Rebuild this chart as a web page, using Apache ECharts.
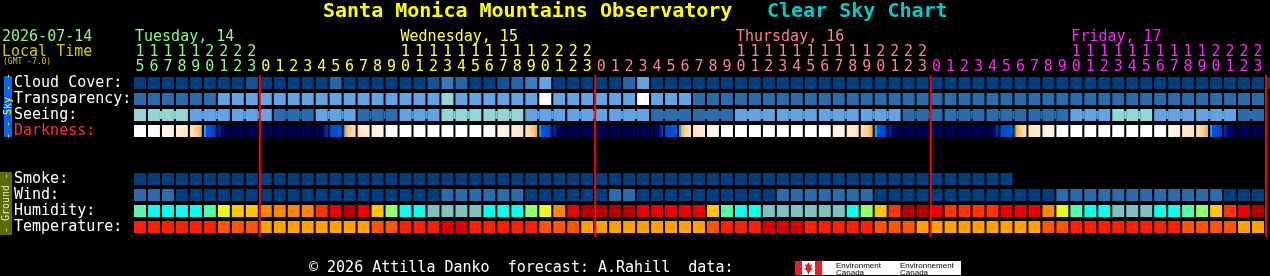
<!DOCTYPE html>
<html><head><meta charset="utf-8">
<script src="https://cdn.jsdelivr.net/npm/echarts@6/dist/echarts.min.js"></script>
<style>html,body{margin:0;padding:0;background:#000;overflow:hidden}#c{width:1270px;height:276px}</style>
</head><body><div id="c"></div>
<script>
// ---------------- DATA ----------------
const hours = [15,16,17,18,19,20,21,22,23,
  0,1,2,3,4,5,6,7,8,9,10,11,12,13,14,15,16,17,18,19,20,21,22,23,
  0,1,2,3,4,5,6,7,8,9,10,11,12,13,14,15,16,17,18,19,20,21,22,23,
  0,1,2,3,4,5,6,7,8,9,10,11,12,13,14,15,16,17,18,19,20,21,22,23];
const dayNames = ["Tuesday, 14","Wednesday, 15","Thursday, 16","Friday, 17"];
const rowLabels = ["Cloud Cover:","Transparency:","Seeing:","Darkness:","","","Smoke:","Wind:","Humidity:","Temperature:"];
// cloud cover in tenths (0 = clear)
const cloudCover = [0,0,0,0,0,0,0,0,1,0,0,0,0,0,2,0,0,0,0,0,0,1,3,2,0,0,1,2,3,5,0,0,0,0,0,2,5,
  0,0,0,0,0,0,0,0,0,0,0,0,0,0,0,0,0,0,0,0,0,0,0,0,0,0,0,0,0,0,0,0,0,0,0,0,0,0,0,0,0,0,0,0,0];
// transparency level (0 transparent .. 5 too cloudy)
const transparency = [1,1,1,1,1,1,2,2,2,2,2,2,2,2,2,2,2,2,2,2,2,2,3,2,2,2,2,2,2,5,2,2,2,2,2,2,5,2,2,2,
  1,1,1,1,1,1,1,1,1,1,1,1,1,1,1,1,1,1,1,1,1,1,1,1,1,1,1,1,1,1,1,1,1,1,1,1,1,1,1,1,1];
// seeing level (0 excellent .. 5 too cloudy)
const seeing = [3,3,3,3,2,2,2,2,2,2,1,1,1,2,2,2,1,1,1,2,2,2,3,3,3,3,3,3,2,2,2,2,2,2,2,2,2,
  1,1,1,1,1,1,2,2,2,2,2,2,2,2,2,2,2,2,1,1,1,1,1,1,1,1,1,1,1,1,2,2,2,3,3,3,2,2,2,2,2,2,1,1];
// sun altitude (deg) at each hour boundary, drives the darkness colours
const darkness = [57,44,32,20,9,-0.05,-9.5,-17,-22,
  -25,-26,-25,-23,-20,-8,-1.5,9,20,32,44,56,66,72,68,57,44,32,20,9,-0.05,-9.5,-17,-22,
  -25,-26,-25,-23,-20,-8,-1.5,9,20,32,44,56,66,72,68,57,44,32,20,9,-0.05,-9.5,-17,-22,
  -25,-26,-25,-23,-20,-8,-1.5,9,20,32,44,56,66,72,68,57,44,32,20,9,-0.05,-9.5,-17,-22,
  -25];
// smoke (ug/m3), forecast only 63 hours
const smoke = [0,0,0,0,0,0,0,0,0,0,0,0,0,0,0,0,0,0,0,0,0,
  0,0,0,0,0,0,0,0,0,0,0,0,0,0,0,0,0,0,0,0,0,
  0,0,0,0,0,0,0,0,0,0,0,0,0,0,0,0,0,0,0,0,0];
// wind (mph)
const wind = [8,8,8,3,3,3,3,3,3,3,3,3,3,3,3,3,3,3,3,3,3,3,8,8,8,8,8,8,3,3,3,3,3,3,8,8,
  3,3,3,3,3,3,3,3,3,3,8,8,8,8,8,8,8,3,3,3,3,3,3,3,3,3,3,3,3,3,8,8,8,8,8,8,8,8,8,8,8,8,3,3,3];
// relative humidity (%)
const humidity = [37,32,32,32,32,37,47,52,52,57,57,57,57,62,67,72,67,52,42,32,32,27,27,27,27,32,32,32,42,47,57,67,
  72,72,72,72,67,67,67,67,67,52,37,32,32,27,27,27,27,27,27,32,42,52,62,72,72,67,62,62,62,62,67,67,67,57,47,37,32,32,27,27,27,32,32,37,42,52,62,67,72];
// temperature (F)
const temperature = [75,75,75,75,75,75,70,70,70,66,66,66,66,66,66,66,66,70,70,75,75,75,80,80,75,75,75,75,75,70,70,70,
  66,66,66,66,66,66,66,66,66,70,75,75,75,80,80,80,75,75,75,75,75,70,70,70,66,66,66,66,66,66,66,66,66,70,70,75,75,75,75,75,75,75,75,70,70,70,70,66,66];

// ---------------- STYLE ----------------
const FONT = '"DejaVu Sans Mono","Liberation Mono",monospace';
const dayColors = ['#80FF80','#FFFF33','#FF8080','#FF22FF'];
const cloudColors = ['#003F7F','#135393','#2767A7','#3B7BBB','#4F8FCF','#63A3E3','#77B7F7','#9ADADA','#AEEEEE','#C2C2C2','#EAEAEA'];
const skyColors = ['#003F7F','#2C6CAC','#63A3E3','#95D5D5','#C7C7C7','#FFFFFF'];
const darkStops = [[-90,'#000050'],[-14,'#000050'],[-12,'#000A70'],[-10,'#0028A8'],[-8,'#0048D0'],[-1.6,'#0054DC'],
  [-1.5,'#10A0FF'],[-0.001,'#10A0FF'],[0,'#FFA020'],[1.5,'#FFB848'],[4,'#FFD090'],[9,'#FFE2BC'],[20,'#FFEEDA'],[32,'#FFF8F0'],[44,'#FFFFFF'],[90,'#FFFFFF']];
function windColor(v){return v<=5?'#003F7F':v<=11?'#2C6CAC':v<=16?'#63A3E3':v<=28?'#95D5D5':v<=45?'#C7C7C7':'#F9F9F9';}
const humColors = ['#80C0C0','#08FFEE','#55F9B0','#94FE6A','#EAFB16','#FEC600','#FC8602','#FE3401','#EA0000','#B70000'];
function humColor(v){let k=Math.floor((v-25)/5);k=Math.max(0,Math.min(humColors.length-1,k));return humColors[k];}
function tempColor(v){return v<68?'#FF9F00':v<72?'#FF5500':v<77?'#FF2000':'#DD0000';}

function hex2rgb(h){return [parseInt(h.substr(1,2),16),parseInt(h.substr(3,2),16),parseInt(h.substr(5,2),16)];}
function darkColor(v){
  for(let k=0;k<darkStops.length-1;k++){
    const a=darkStops[k],b=darkStops[k+1];
    if(v>=a[0]&&v<=b[0]){
      const t=(b[0]===a[0])?0:(v-a[0])/(b[0]-a[0]);
      const ca=hex2rgb(a[1]),cb=hex2rgb(b[1]);
      const c=ca.map((x,j)=>Math.round(x+(cb[j]-x)*t));
      return 'rgb('+c.join(',')+')';
    }
  }
  return darkStops[darkStops.length-1][1];
}
function darkFill(a,b){
  const stops=[{offset:0,color:darkColor(a)}];
  const lo=Math.min(a,b),hi=Math.max(a,b);
  darkStops.forEach(s=>{ if(s[0]>lo&&s[0]<hi){ stops.push({offset:(s[0]-a)/(b-a),color:s[1]}); } });
  stops.push({offset:1,color:darkColor(b)});
  stops.sort((x,y)=>x.offset-y.offset);
  return {type:'linear',x:0,y:0,x2:1,y2:0,colorStops:stops,global:false};
}

// ---------------- DERIVED ----------------
const dayIdx=[];let d=0;
hours.forEach((h,i)=>{ if(i>0&&h===0) d++; dayIdx.push(d); });
const dayLabelAt={};
dayNames.forEach((n,k)=>{ const i=hours.findIndex((h,j)=>dayIdx[j]===k&&h>=10); if(i>=0) dayLabelAt[i]=k; });
const midnights=[];
hours.forEach((h,i)=>{ if(i>0&&h===0) midnights.push(i); });
midnights.push(hours.length);

function cellSeries(row, values, fillOf, bridgeOf){
  return {
    type:'custom', xAxisIndex:0, yAxisIndex:0, silent:true, animation:false, clip:false,
    data: values.map((v,i)=>[i,row,v]),
    renderItem:(params,api)=>{
      const i=api.value(0);
      const p=api.coord([i,row]);
      const s=api.size([1,1]);
      const w=s[0]-2,h=s[1]-4;
      const ch=[{type:'rect',shape:{x:p[0]-w/2,y:p[1]-h/2,width:w,height:h},style:{fill:fillOf(values[i],i)}}];
      if(bridgeOf&&bridgeOf(i)){
        ch.push({type:'rect',shape:{x:p[0]+w/2,y:p[1]-4,width:s[0]-w,height:8},style:{fill:fillOf(values[i],i)}});
      }
      return {type:'group',children:ch};
    }
  };
}

const series=[
  cellSeries(0,cloudCover,v=>cloudColors[v]),
  cellSeries(1,transparency,v=>skyColors[v]),
  cellSeries(2,seeing,v=>skyColors[v],i=>i+1<seeing.length&&Math.floor((i-1)/3)===Math.floor(i/3)&&seeing[i]===seeing[i+1]),
  cellSeries(3,hours.map((h,i)=>darkness[i]),(v,i)=>darkFill(darkness[i],darkness[i+1])),
  cellSeries(6,smoke,v=>'#033E7E'),
  cellSeries(7,wind,windColor),
  cellSeries(8,humidity,humColor),
  cellSeries(9,temperature,tempColor),
  {
    type:'custom', xAxisIndex:0, yAxisIndex:0, silent:true, animation:false, clip:false, z:10,
    data: midnights.map(c=>[c,0]),
    renderItem:(params,api)=>{
      const c=api.value(0);
      const bw=api.size([1,0])[0], bh=api.size([0,1])[1];
      const f=api.coord([0,0]), l=api.coord([0,rowLabels.length-1]);
      const x=f[0]-bw/2+c*bw+1;
      return {type:'line',shape:{x1:x,y1:f[1]-bh/2,x2:x,y2:l[1]+bh/2+2},style:{stroke:'#FF0000',lineWidth:2}};
    }
  }
];

const hourCats=hours.map(String);
const baseLabel={interval:0,fontFamily:FONT,fontSize:15,lineHeight:15,hideOverlap:false};
const option={
  backgroundColor:'#000',
  animation:false,
  grid:{left:133,top:75,width:1134,height:160},
  xAxis:[
    {type:'category',data:hourCats,position:'top',offset:0,axisLine:{show:false},axisTick:{show:false},splitLine:{show:false},
      axisLabel:Object.assign({},baseLabel,{margin:0,formatter:v=>String(+v%10),color:(v,i)=>dayColors[dayIdx[i]]})},
    {type:'category',data:hourCats,position:'top',offset:15,axisLine:{show:false},axisTick:{show:false},splitLine:{show:false},
      axisLabel:Object.assign({},baseLabel,{margin:0,formatter:v=>(+v>=10?String(Math.floor(+v/10)):''),color:(v,i)=>dayColors[dayIdx[i]]})},
    {type:'value',min:0,max:hours.length,interval:1,position:'top',offset:30.5,axisLine:{show:false},axisTick:{show:false},splitLine:{show:false},
      axisLabel:Object.assign({},baseLabel,{margin:0,align:'left',padding:[0,0,0,2],showMinLabel:true,showMaxLabel:true,
        formatter:v=>(dayLabelAt[v]!==undefined?dayNames[dayLabelAt[v]]:''),
        color:v=>(dayLabelAt[v]!==undefined?dayColors[dayLabelAt[v]]:'#fff')})}
  ],
  yAxis:[{type:'category',data:rowLabels,inverse:true,axisLine:{show:false},axisTick:{show:false},splitLine:{show:false},
    axisLabel:{interval:0,align:'left',margin:119,fontFamily:FONT,fontSize:15,color:v=>(v==='Darkness:'?'#FF3030':'#FFFFFF')}}],
  series:series,
  graphic:[
    {type:'text',x:323,y:12,silent:true,style:{text:'Santa Monica Mountains Observatory',fill:'#FFFF00',fontFamily:FONT,fontSize:20,fontWeight:'bold',verticalAlign:'middle'}},
    {type:'text',x:767,y:12,silent:true,style:{text:'Clear Sky Chart',fill:'#00CCCC',fontFamily:FONT,fontSize:20,fontWeight:'bold',verticalAlign:'middle'}},
    {type:'text',x:2,y:37,silent:true,style:{text:'2026-07-14',fill:dayColors[0],fontFamily:FONT,fontSize:15,verticalAlign:'middle'}},
    {type:'text',x:2,y:52,silent:true,style:{text:'Local Time',fill:'#CCCC00',fontFamily:FONT,fontSize:15,verticalAlign:'middle'}},
    {type:'text',x:3,y:62,silent:true,style:{text:'(GMT -7.0)',fill:'#CCCC00',fontFamily:FONT,fontSize:8,verticalAlign:'middle'}},
    {type:'rect',silent:true,shape:{x:4,y:76,width:8,height:61},style:{fill:'#0D62F2'}},
    {type:'text',x:8,y:106,rotation:Math.PI/2,silent:true,style:{text:'- - Sky - -',fill:'#FFFF00',fontFamily:FONT,fontSize:10,align:'center',verticalAlign:'middle'}},
    {type:'rect',silent:true,shape:{x:0,y:172,width:12,height:63},style:{fill:'#5A6E00'}},
    {type:'text',x:6,y:203,rotation:Math.PI/2,silent:true,style:{text:'- Ground -',fill:'#E8E8D0',fontFamily:FONT,fontSize:10,align:'center',verticalAlign:'middle'}},
    {type:'text',x:309,y:268,silent:true,style:{text:'\u00A9 2026 Attilla Danko  forecast: A.Rahill  data:',fill:'#FFFFFF',fontFamily:FONT,fontSize:15,verticalAlign:'middle'}},
    {type:'rect',silent:true,shape:{x:795,y:261,width:166,height:14},style:{fill:'#FFFFFF'}},
    {type:'rect',silent:true,shape:{x:795,y:261,width:7,height:14},style:{fill:'#EE1C25'}},
    {type:'rect',silent:true,shape:{x:815,y:261,width:7,height:14},style:{fill:'#EE1C25'}},
    {type:'polygon',silent:true,shape:{points:[[808.5,262],[810,265],[812,264],[811,268],[813,269],[810,271],[809,274],[808,274],[807,271],[804,269],[806,268],[805,264],[807,265]]},style:{fill:'#EE1C25'}},
    {type:'text',x:836,y:262,silent:true,style:{text:'Environment\nCanada',fill:'#000',fontFamily:'"Liberation Sans",sans-serif',fontSize:8,lineHeight:7}},
    {type:'text',x:900,y:262,silent:true,style:{text:'Environnement\nCanada',fill:'#000',fontFamily:'"Liberation Sans",sans-serif',fontSize:8,lineHeight:7}}
  ]
};
const chart=echarts.init(document.getElementById('c'),null,{renderer:'canvas'});
chart.setOption(option);
</script>
</body></html>
